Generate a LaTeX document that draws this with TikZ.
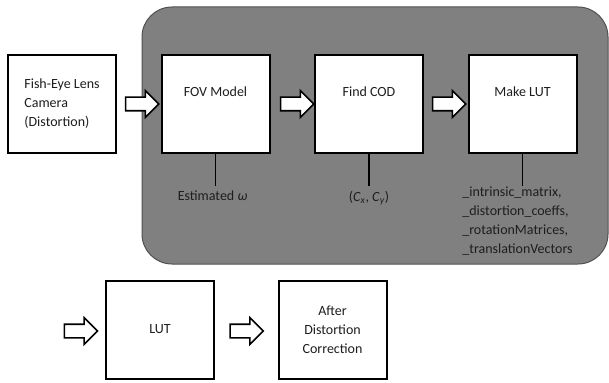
\documentclass[tikz,border=0pt]{standalone}
\usepackage{fontspec}
\setmainfont{Carlito}
\usetikzlibrary{shapes.arrows,calc}
\definecolor{panelfill}{RGB}{128,128,128}
\definecolor{panelline}{RGB}{80,80,80}
\definecolor{txt}{RGB}{30,30,30}
\begin{document}
\begin{tikzpicture}[x=1pt,y=-1pt,
  font=\fontsize{14}{19}\selectfont, text=txt,
  box/.style={draw=black, line width=2pt, fill=white, minimum width=108pt, minimum height=98pt, align=center, inner sep=0pt},
  barrow/.style={single arrow, draw=black, line width=1.6pt, fill=white,
    minimum height=33pt, inner xsep=0pt, inner ysep=6pt,
    single arrow head extend=6.5pt},
  stem/.style={draw=black, line width=1.3pt},
  lbl/.style={anchor=north, inner sep=0pt}]
\useasboundingbox (0,0) rectangle (609,382);
% panel
\draw[panelline, fill=panelfill, line width=1pt, rounded corners=30pt] (142,7) rectangle (608,264);
% boxes
\node[box, align=left] (fish) at (62,104) {Fish-Eye Lens\\Camera\\(Distortion)};
\node[box] (fov) at (215.5,104) {FOV Model\\[6pt]};
\node[box] (cod) at (369,104) {Find COD\\[6pt]};
\node[box] (mlut) at (522.5,104) {Make LUT\\[6pt]};
\node[box] (lut) at (160,329.5) {LUT};
\node[box] (after) at (332.5,329.5) {After\\Distortion\\Correction};
% block arrows
\node[barrow] (a1) at ($(fish.east)!0.5!(fov.west)$) {};
\node[barrow] (a2) at ($(fov.east)!0.5!(cod.west)+(1.5,0)$) {};
\node[barrow] (a3) at ($(cod.east)!0.5!(mlut.west)$) {};
\node[barrow] (a4) at (77.5,331) {};
\node[barrow] (a5) at ($(lut.east)!0.5!(after.west)+(-3,1.5)$) {};
% stems and labels
\coordinate (e1) at ($(fov.south)+(0,32)$);
\coordinate (e2) at ($(cod.south)+(0,32)$);
\coordinate (e3) at ($(mlut.south)+(0,32)$);
\draw[stem] (fov.south) -- (e1);
\draw[stem] (cod.south) -- (e2);
\draw[stem] (mlut.south) -- (e3);
\node[lbl] (l1) at ($(e1)+(-3,5)$) {Estimated \textit{ω}};
\node[lbl] (l2) at ($(e2)+(0,5)$) {(\textit{C}\textsubscript{\textit{x}}, \textit{C}\textsubscript{\textit{y}})};
\node[lbl, align=left] (l3) at ($(e3)+(-5,1)$) {\_intrinsic\_matrix,\\\_distortion\_coeffs,\\\_rotationMatrices,\\\_translationVectors};
\end{tikzpicture}
\end{document}
